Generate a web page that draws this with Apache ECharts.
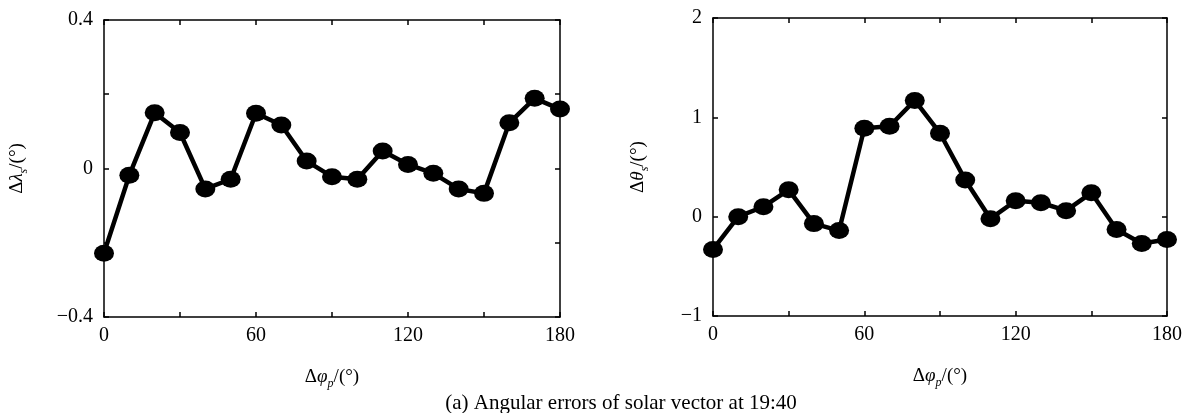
<!DOCTYPE html>
<html>
<head>
<meta charset="utf-8">
<script src="https://cdn.jsdelivr.net/npm/echarts@6/dist/echarts.min.js"></script>
<style>
  html, body { margin: 0; padding: 0; background: #fff; }
  #chart { width: 1194px; height: 413px; }
</style>
</head>
<body>
<div id="chart"></div>
<script>
// pitch offset, degrees
const phiP = [0, 10, 20, 30, 40, 50, 60, 70, 80, 90, 100, 110, 120, 130, 140, 150, 160, 170, 180];
// azimuth error of solar vector
const dLambda = [-0.228, -0.018, 0.150, 0.097, -0.055, -0.029, 0.149, 0.117, 0.020, -0.022,
                 -0.029, 0.047, 0.011, -0.013, -0.055, -0.067, 0.123, 0.189, 0.160];
// elevation error of solar vector
const dTheta = [-0.33, 0.00, 0.10, 0.27, -0.07, -0.14, 0.89, 0.91, 1.17, 0.84,
                0.37, -0.02, 0.16, 0.14, 0.06, 0.24, -0.13, -0.27, -0.23];
const xLabels = [0, 60, 120, 180];
const lambdaLabels = [-0.4, 0, 0.4];
const thetaLabels = [-1, 0, 1, 2];
const caption = '(a) Angular errors of solar vector at 19:40';

const FONT = '"Liberation Serif", "Times New Roman", serif';
const minus = v => String(v).replace('-', '\u2212');

const chart = echarts.init(document.getElementById('chart'));

const richName = {
  n: { fontFamily: FONT, fontSize: 19, color: '#000', lineHeight: 26 },
  i: { fontFamily: FONT, fontSize: 19, color: '#000', fontStyle: 'italic', lineHeight: 26 },
  s: { fontFamily: FONT, fontSize: 12, color: '#000', fontStyle: 'italic', verticalAlign: 'bottom', lineHeight: 26 }
};

const lineStyle = { color: '#000', width: 1.5 };

function xAxes(gridIndex) {
  return [{
    type: 'value', gridIndex, min: 0, max: 180, interval: 30,
    position: 'bottom',
    name: '{n|Δ}{i|φ}{s|p}{n|/(°)}',
    nameLocation: 'middle', nameGap: 47,
    nameTextStyle: { rich: richName },
    axisLine: { show: true, onZero: false, lineStyle },
    axisTick: { show: true, inside: true, length: 5, lineStyle },
    axisLabel: {
      margin: 9, color: '#000', fontFamily: FONT, fontSize: 20,
      formatter: v => xLabels.includes(v) ? String(v) : ''
    },
    splitLine: { show: false }
  }, {
    type: 'value', gridIndex, min: 0, max: 180, interval: 30,
    position: 'top',
    axisLine: { show: true, onZero: false, lineStyle },
    axisTick: { show: true, inside: true, length: 5, lineStyle },
    axisLabel: { show: false },
    splitLine: { show: false }
  }];
}

function yAxes(gridIndex, min, max, interval, labels, name, gap) {
  return [{
    type: 'value', gridIndex, min, max, interval,
    position: 'left',
    name, nameLocation: 'middle', nameGap: gap, nameRotate: 90,
    nameTextStyle: { rich: richName },
    axisLine: { show: true, onZero: false, lineStyle },
    axisTick: { show: true, inside: true, length: 5, lineStyle },
    axisLabel: {
      margin: 11, color: '#000', fontFamily: FONT, fontSize: 20,
      formatter: v => labels.some(l => Math.abs(l - v) < 1e-9) ? minus(Math.round(v * 10) / 10) : ''
    },
    splitLine: { show: false }
  }, {
    type: 'value', gridIndex, min, max, interval,
    position: 'right',
    axisLine: { show: true, onZero: false, lineStyle },
    axisTick: { show: true, inside: true, length: 5, lineStyle },
    axisLabel: { show: false },
    splitLine: { show: false }
  }];
}

function lineSeries(idx, values) {
  return {
    type: 'line',
    xAxisIndex: idx * 2, yAxisIndex: idx * 2,
    data: phiP.map((x, i) => [x, values[i]]),
    symbol: 'circle', symbolSize: [20, 17],
    clip: false,
    lineStyle: { color: '#000', width: 4.5 },
    itemStyle: { color: '#000' },
    silent: true
  };
}

chart.setOption({
  animation: false,
  backgroundColor: '#fff',
  title: {
    text: caption, left: 616, top: 388, textAlign: 'center',
    textStyle: { fontFamily: FONT, fontSize: 21, fontWeight: 'normal', color: '#000' }
  },
  grid: [
    { left: 104, top: 20, width: 456, height: 297, containLabel: false },
    { left: 713, top: 18, width: 454, height: 298, containLabel: false }
  ],
  xAxis: [...xAxes(0), ...xAxes(1)],
  yAxis: [
    ...yAxes(0, -0.4, 0.4, 0.2, lambdaLabels, '{n|Δ}{i|λ}{s|s}{n|/(°)}', 74),
    ...yAxes(1, -1, 2, 1, thetaLabels, '{n|Δ}{i|θ}{s|s}{n|/(°)}', 62)
  ],
  series: [lineSeries(0, dLambda), lineSeries(1, dTheta)]
});
</script>
</body>
</html>
